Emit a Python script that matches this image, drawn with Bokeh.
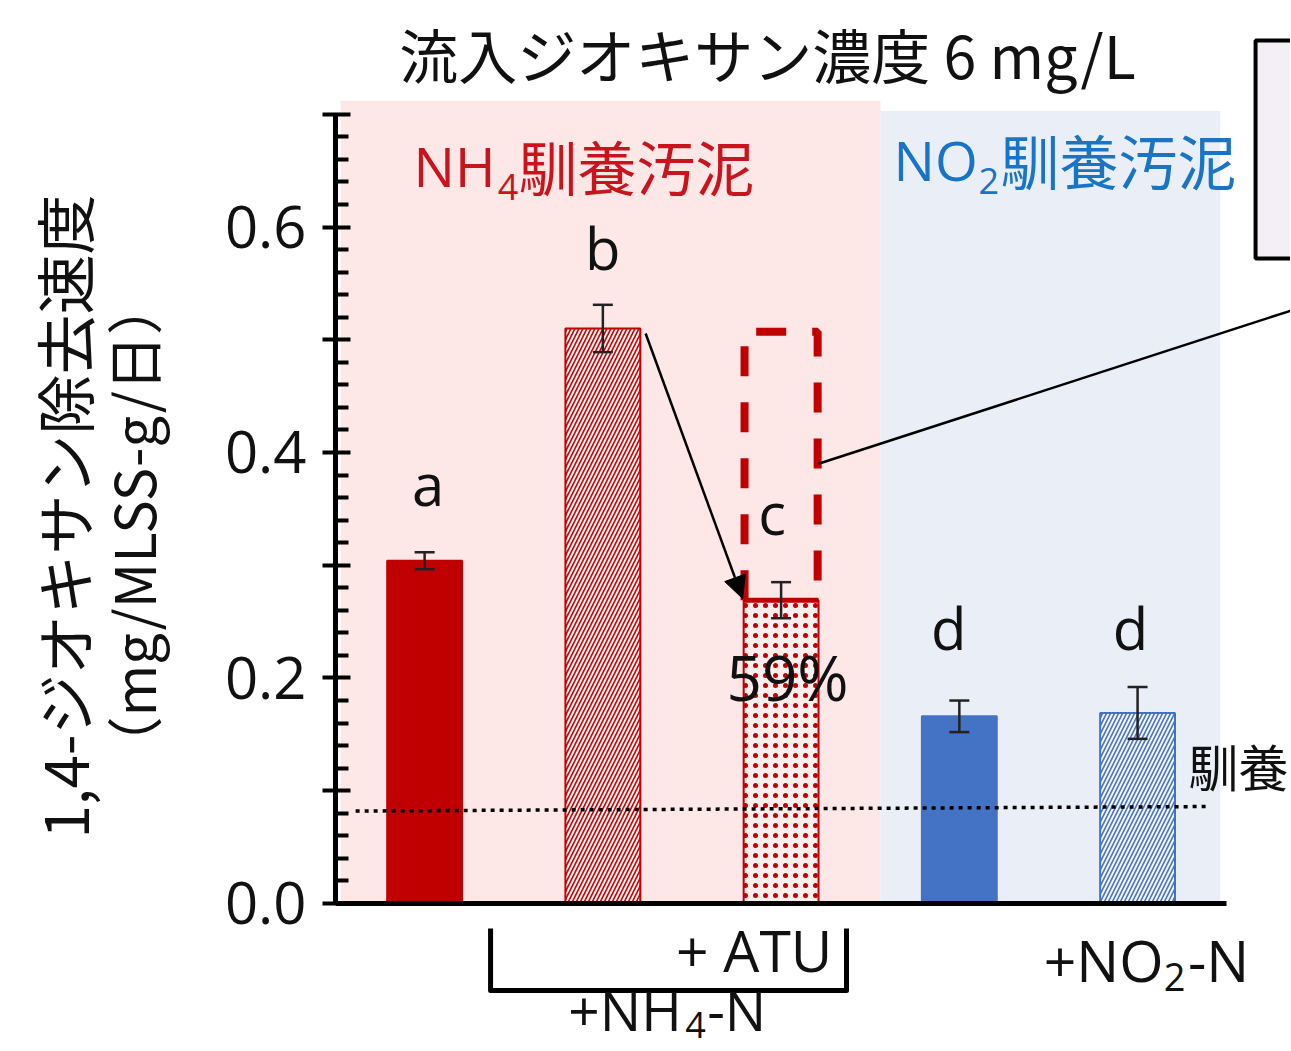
import math
from bokeh.plotting import figure
from bokeh.layouts import row
from bokeh.models import (FixedTicker, Arrow, NormalHead, Whisker, TeeHead,
                          ColumnDataSource, Range1d, CustomJSTickFormatter)
from bokeh.embed import file_html
from bokeh.resources import INLINE
from bokeh.core.properties import value

# ---------------- data ----------------
conditions = ["NH4馴養汚泥", "NH4馴養汚泥 +NH4-N", "NH4馴養汚泥 +NH4-N +ATU",
              "NO2馴養汚泥", "NO2馴養汚泥 +NO2-N"]
positions = [1, 2, 3, 4, 5]
rates = [0.304, 0.510, 0.269, 0.166, 0.169]
errors = [0.0075, 0.021, 0.016, 0.014, 0.023]
letters = ["a", "b", "c", "d", "d"]
letter_x = [1.02, 2.0, 2.95, 3.94, 4.96]
letter_y = [0.3725, 0.5818, 0.3468, 0.2448, 0.2448]
acclim_level = [0.082, 0.086]          # dotted reference line (left, right)
atu_ratio_text = "59%"
y_major = [0.0, 0.1, 0.2, 0.3, 0.4, 0.5, 0.6, 0.7]
y_minor = [round(i * 0.02, 2) for i in range(36) if i % 5 != 0]
y_title = ["1,4-ジオキサン除去速度", "（mg/MLSS-g/日）"]

RED = "#c00000"
BLUE = "#4472c4"
RED_TXT = "#c8141c"
BLUE_TXT = "#1a74c6"
PINK_BG = "#fde7e7"
BLUE_BG = "#e9eef7"
INK = "#111111"
JP = value("Noto Sans CJK JP")
LAT = value("Open Sans")

Y_TOP = 0.8009
Y_BOT = -0.1304
X_END = 5.858

# ---------------- main panel ----------------
p = figure(width=1110, height=1050, output_backend="svg", toolbar_location=None,
           x_range=Range1d(0.5, X_END), y_range=Range1d(Y_BOT, Y_TOP),
           min_border_left=155, min_border_right=0, min_border_top=0,
           min_border_bottom=0)
p.grid.visible = False
p.outline_line_color = None

# background panels
p.quad(left=[0.529, 3.557], right=[3.557, 5.464], bottom=[0, 0], top=[0.712, 0.703],
       fill_color=[PINK_BG, BLUE_BG], line_color=None, level="underlay")

# bars
src = ColumnDataSource(dict(
    x=positions, top=rates,
    upper=[r + e for r, e in zip(rates, errors)],
    lower=[r - e for r, e in zip(rates, errors)],
    fill=[RED, "#fff5f5", "#fdeeee", BLUE, "#f3f6fc"],
    line=[RED, RED, RED, BLUE, BLUE],
    hatch=[" ", "/", ".", " ", "/"],
    hcolor=[RED, RED, RED, BLUE, BLUE],
    hscale=[8, 8, 10, 8, 8],
    hweight=[1, 1.6, 1.7, 1, 1.6],
))
p.vbar(x="x", top="top", width=0.42, bottom=0, source=src,
       fill_color="fill", line_color="line", line_width=2,
       hatch_pattern="hatch", hatch_color="hcolor", hatch_scale="hscale",
       hatch_weight="hweight")

# thick top of the ATU bar
p.segment(x0=[positions[2] - 0.21], x1=[positions[2] + 0.21], y0=[rates[2]], y1=[rates[2]],
          line_color=RED, line_width=5)

# dashed outline of the original (non-ATU) level above the ATU bar
p.line(x=[positions[2] - 0.205, positions[2] - 0.205, positions[2] + 0.205, positions[2] + 0.205],
       y=[rates[2], rates[1] - 0.003, rates[1] - 0.003, 0.286],
       line_color=RED, line_width=8, line_dash="30 26")

# error bars
p.add_layout(Whisker(base="x", upper="upper", lower="lower", source=src, level="annotation",
                     line_color="#222222", line_width=2.5,
                     upper_head=TeeHead(size=20, line_width=2.5, line_color="#222222"),
                     lower_head=TeeHead(size=20, line_width=2.5, line_color="#222222")))

# dotted acclimation level line
p.line(x=[0.613, 5.41], y=acclim_level, line_color="black", line_width=3.5,
       line_dash="4 5")

# significance letters
p.text(x=letter_x, y=letter_y, text=letters, text_font=LAT, text_font_size="58px",
       text_align="center", text_baseline="alphabetic", text_color=INK)

# percentage
p.text(x=[3.036], y=[0.2005], text=[atu_ratio_text], text_font=LAT, text_font_size="62px",
       text_align="center", text_baseline="alphabetic", text_color=INK)

# arrow from + NH4-N bar to ATU bar
p.add_layout(Arrow(end=NormalHead(size=22, fill_color="black", line_color="black"),
                   x_start=2.24, y_start=0.5055, x_end=2.784, y_end=0.2705,
                   line_width=2.5, line_color="black"))

# connector to the callout box
p.line(x=[3.21, 5.864], y=[0.39, 0.526], line_color="black", line_width=2.5)
p.quad(left=[5.662], right=[6.3], top=[0.7654], bottom=[0.572],
       fill_color="#f4eff7", line_color="black", line_width=4)

# title
p.text(x=[2.924], y=[0.7539], text=["流入ジオキサン濃度 6 mg/L"], text_font=JP,
       text_font_size="59px", text_align="center", text_baseline="middle",
       text_color=INK)

# group headers
p.text(x=[0.938], y=[0.6546], text=["NH"], text_font=LAT, text_font_size="55px",
       text_color=RED_TXT, text_baseline="alphabetic")
p.text(x=[1.4096], y=[0.6359], text=["4"], text_font=LAT, text_font_size="36px",
       text_color=RED_TXT, text_baseline="alphabetic")
p.text(x=[1.5273], y=[0.6546], text=["馴養汚泥"], text_font=JP, text_font_size="59px",
       text_color=RED_TXT, text_baseline="alphabetic")
p.text(x=[3.631], y=[0.6599], text=["NO"], text_font=LAT, text_font_size="55px",
       text_color=BLUE_TXT, text_baseline="alphabetic")
p.text(x=[4.108], y=[0.6412], text=["2"], text_font=LAT, text_font_size="36px",
       text_color=BLUE_TXT, text_baseline="alphabetic")
p.text(x=[4.231], y=[0.6599], text=["馴養汚泥"], text_font=JP, text_font_size="59px",
       text_color=BLUE_TXT, text_baseline="alphabetic")

# right side text (partly visible in the reference)
p.text(x=[5.286], y=[0.1224], text=["馴養"], text_font=JP, text_font_size="50px",
       text_color=INK, text_baseline="middle")

# treatment labels and bracket below the baseline
p.line(x=[1.37, 1.37, 3.367, 3.367], y=[-0.0222, -0.0772, -0.0772, -0.0222],
       line_width=5, line_color="black", line_join="round")
for txt, x, y, size in [("+ ATU", 2.41, -0.0412, "57px"),
                        ("+NO", 4.4733, -0.050, "57px"), ("2", 5.147, -0.0656, "38px"),
                        ("-N", 5.283, -0.050, "57px"),
                        ("+NH", 1.806, -0.0941, "55px"), ("4", 2.462, -0.1075, "36px"),
                        ("-N", 2.585, -0.0941, "55px")]:
    p.text(x=[x], y=[y], text=[txt], text_font=LAT, text_font_size=size,
           text_align="left", text_baseline="alphabetic", text_color=INK)

# ---------------- axes ----------------
yax = p.yaxis[0]
yax.ticker = FixedTicker(ticks=y_major, minor_ticks=y_minor)
yax.formatter = CustomJSTickFormatter(code="""
    const k = Math.round(tick * 10);
    return (k % 2 === 0) ? tick.toFixed(1) : "";
""")
yax.bounds = (0, 0.7)
yax.axis_line_width = 5
yax.axis_line_color = "black"
yax.major_tick_line_width = 4
yax.major_tick_in = 15
yax.major_tick_out = 13
yax.minor_tick_line_width = 4
yax.minor_tick_in = 13
yax.minor_tick_out = 0
yax.major_label_text_font = "Open Sans"
yax.major_label_text_font_size = "58px"
yax.major_label_text_color = INK
yax.major_label_standoff = 16

xax = p.xaxis[0]
xax.fixed_location = 0
xax.ticker = FixedTicker(ticks=[])
xax.bounds = (0.427, 5.5)
xax.axis_line_width = 5
xax.axis_line_color = "black"
xax.major_tick_out = 0
xax.major_tick_in = 0
xax.minor_tick_out = 0
xax.minor_tick_in = 0
xax.major_tick_line_color = None
xax.minor_tick_line_color = None
xax.major_label_standoff = 0
xax.major_label_text_font_size = "0px"

# ---------------- panel left of the axis (axis title) ----------------
pl = figure(width=180, height=1050, output_backend="svg", toolbar_location=None,
            x_range=Range1d(0, 180), y_range=Range1d(Y_BOT, Y_TOP),
            min_border_left=0, min_border_right=0, min_border_top=0,
            min_border_bottom=0)
pl.axis.visible = False
pl.grid.visible = False
pl.outline_line_color = None
pl.text(x=[62, 131], y=[0.3432, 0.335], text=y_title, angle=math.pi / 2,
        text_font=JP, text_font_size=["60px", "56px"], text_align="center",
        text_baseline="middle", text_color=INK)

layout = row(pl, p, spacing=0)
open("out.html", "w").write(file_html(layout, INLINE))
